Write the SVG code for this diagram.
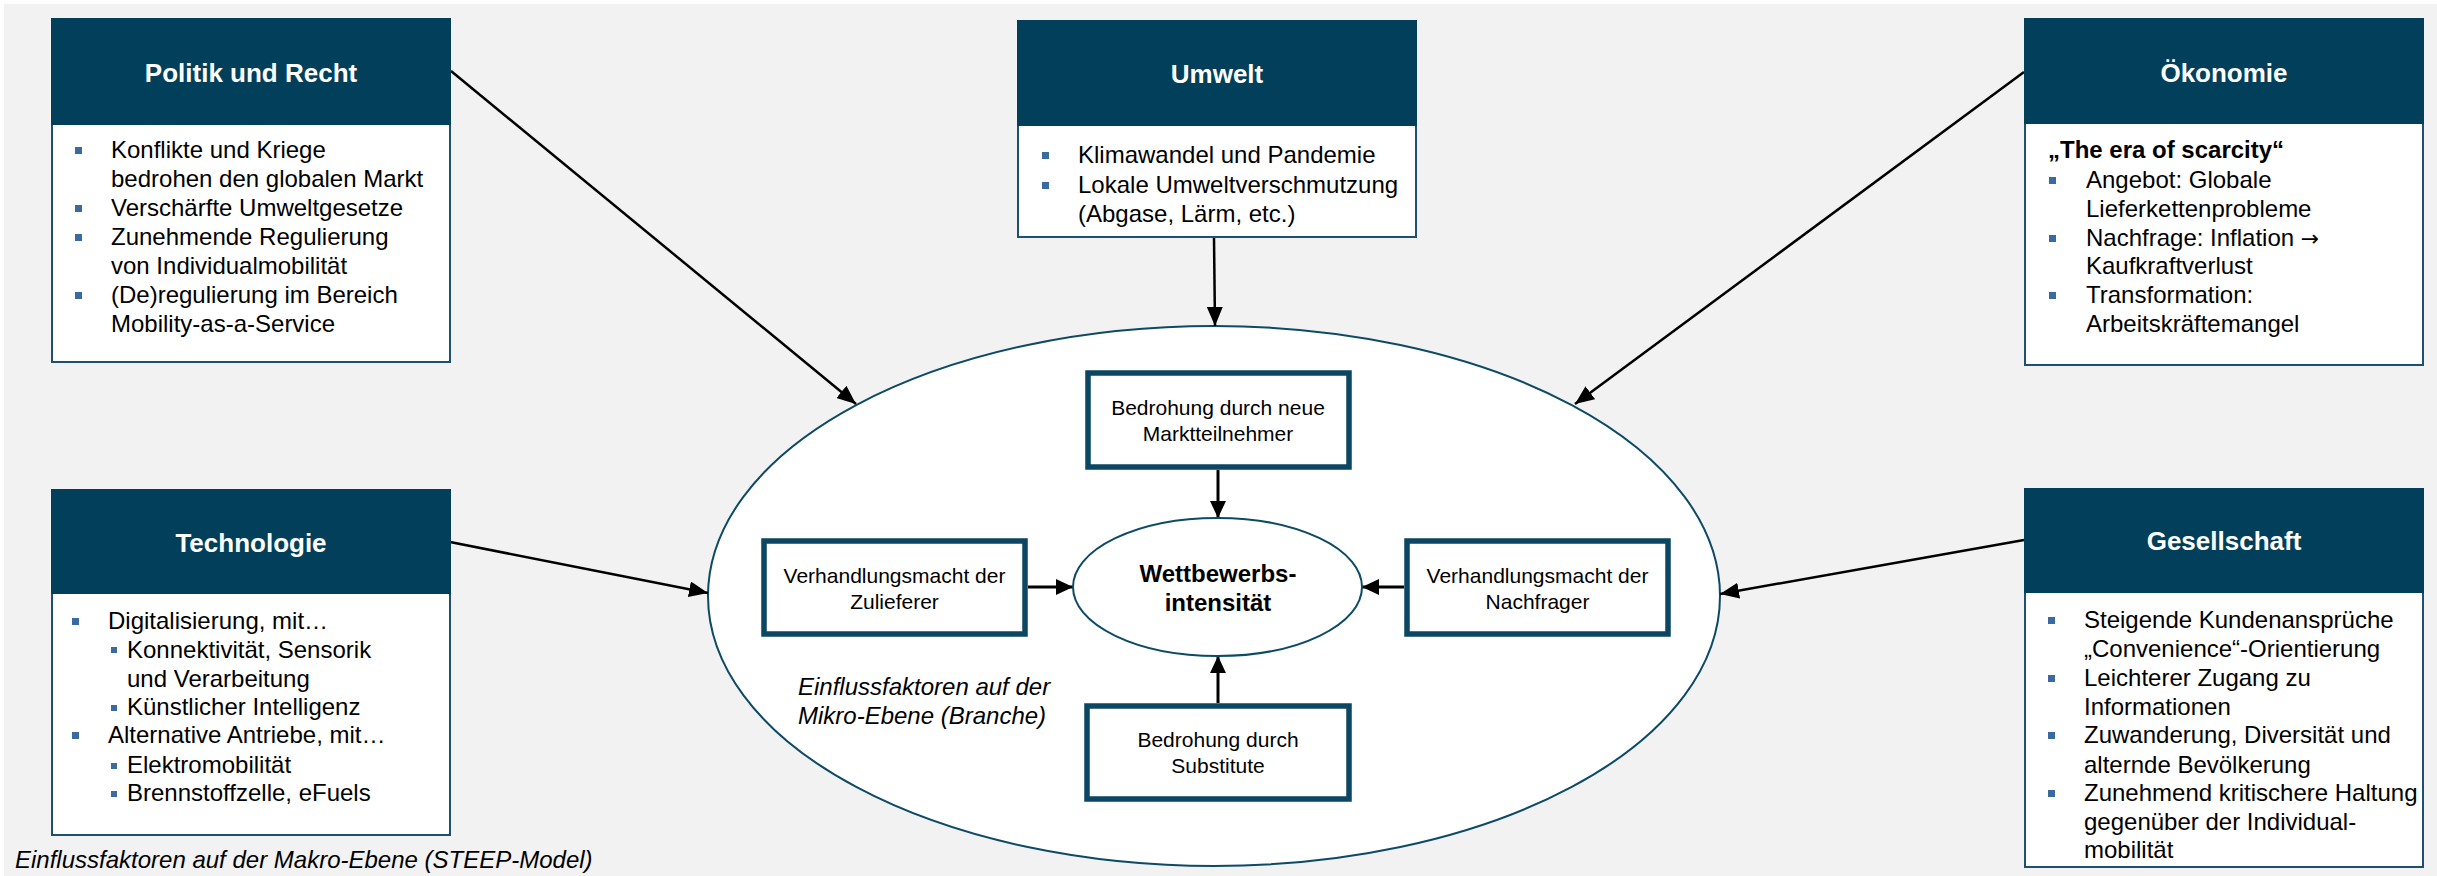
<svg xmlns="http://www.w3.org/2000/svg" width="2437" height="876" viewBox="0 0 2437 876">
<style>
text{font-family:"Liberation Sans",Arial,sans-serif;fill:#000}
.hd{fill:#023f5a}
.bd{fill:#fff;stroke:#1f5070;stroke-width:2}
.ht{font-size:26px;font-weight:bold;fill:#fff;text-anchor:middle}
.tx{font-size:24px}
.bl{fill:#3a6aa0}
.ib{fill:#fff;stroke:#0b4662;stroke-width:5.5}
.it{font-size:21px;text-anchor:middle}
.ca{font-size:24px;font-style:italic}
.el{fill:#fff;stroke:#0d4a66;stroke-width:2}
.cn{stroke:#000;fill:none}
</style>
<defs>
<marker id="ah" markerUnits="userSpaceOnUse" markerWidth="20" markerHeight="16" refX="19" refY="8" orient="auto">
<path d="M0,0 L19,8 L0,16 z" fill="#000"/>
</marker>
<marker id="ah2" markerUnits="userSpaceOnUse" markerWidth="18" markerHeight="16" refX="17" refY="8" orient="auto">
<path d="M0,0 L17,8 L0,16 z" fill="#000"/>
</marker>
</defs>
<rect x="0" y="0" width="2437" height="876" fill="#fff"/>
<rect x="4" y="4" width="2433" height="872" fill="#f2f2f2"/>

<g id="makro-ellipse">
<ellipse class="el" cx="1214" cy="596" rx="506" ry="270"/>
</g>

<g id="connectors">
<line class="cn" stroke-width="2.5" x1="451" y1="71" x2="856" y2="404" marker-end="url(#ah)"/>
<line class="cn" stroke-width="2.5" x1="1214" y1="238" x2="1215" y2="326" marker-end="url(#ah)"/>
<line class="cn" stroke-width="2.5" x1="2024" y1="72" x2="1575" y2="404" marker-end="url(#ah)"/>
<line class="cn" stroke-width="2.5" x1="450" y1="542" x2="708" y2="593" marker-end="url(#ah)"/>
<line class="cn" stroke-width="2.5" x1="2024" y1="540" x2="1720" y2="594" marker-end="url(#ah)"/>
<line class="cn" stroke-width="3" x1="1218" y1="470" x2="1218" y2="518" marker-end="url(#ah2)"/>
<line class="cn" stroke-width="3" x1="1218" y1="703" x2="1218" y2="656" marker-end="url(#ah2)"/>
<line class="cn" stroke-width="3" x1="1028" y1="587" x2="1073" y2="587" marker-end="url(#ah2)"/>
<line class="cn" stroke-width="3" x1="1404" y1="587" x2="1362" y2="587" marker-end="url(#ah2)"/>
</g>

<g id="politik">
<rect class="bd" x="52" y="19" width="398" height="343"/>
<rect class="hd" x="51" y="18" width="400" height="107"/>
<text class="ht" x="251" y="82">Politik und Recht</text>
<rect class="bl" x="75" y="147" width="7" height="7"/>
<rect class="bl" x="75" y="205" width="7" height="7"/>
<rect class="bl" x="75" y="234" width="7" height="7"/>
<rect class="bl" x="75" y="292" width="7" height="7"/>
<text class="tx" x="111" y="158">Konflikte und Kriege</text>
<text class="tx" x="111" y="187">bedrohen den globalen Markt</text>
<text class="tx" x="111" y="216">Verschärfte Umweltgesetze</text>
<text class="tx" x="111" y="245">Zunehmende Regulierung</text>
<text class="tx" x="111" y="274">von Individualmobilität</text>
<text class="tx" x="111" y="303">(De)regulierung im Bereich</text>
<text class="tx" x="111" y="332">Mobility-as-a-Service</text>
</g>

<g id="umwelt">
<rect class="bd" x="1018" y="21" width="398" height="216"/>
<rect class="hd" x="1017" y="20" width="400" height="106"/>
<text class="ht" x="1217" y="83">Umwelt</text>
<rect class="bl" x="1042" y="152" width="7" height="7"/>
<rect class="bl" x="1042" y="182" width="7" height="7"/>
<text class="tx" x="1078" y="163">Klimawandel und Pandemie</text>
<text class="tx" x="1078" y="193">Lokale Umweltverschmutzung</text>
<text class="tx" x="1078" y="222">(Abgase, Lärm, etc.)</text>
</g>

<g id="oekonomie">
<rect class="bd" x="2025" y="19" width="398" height="346"/>
<rect class="hd" x="2024" y="18" width="400" height="106"/>
<text class="ht" x="2224" y="82">Ökonomie</text>
<text class="tx" x="2048" y="158" font-weight="bold">„The era of scarcity“</text>
<rect class="bl" x="2049" y="177" width="7" height="7"/>
<rect class="bl" x="2049" y="235" width="7" height="7"/>
<rect class="bl" x="2049" y="292" width="7" height="7"/>
<text class="tx" x="2086" y="188">Angebot: Globale</text>
<text class="tx" x="2086" y="217">Lieferkettenprobleme</text>
<text class="tx" x="2086" y="246">Nachfrage: Inflation <tspan font-family="'DejaVu Sans',sans-serif" font-size="22">→</tspan></text>
<text class="tx" x="2086" y="274">Kaufkraftverlust</text>
<text class="tx" x="2086" y="303">Transformation:</text>
<text class="tx" x="2086" y="332">Arbeitskräftemangel</text>
</g>

<g id="technologie">
<rect class="bd" x="52" y="490" width="398" height="345"/>
<rect class="hd" x="51" y="489" width="400" height="105"/>
<text class="ht" x="251" y="552">Technologie</text>
<rect class="bl" x="72" y="618" width="7" height="7"/>
<rect class="bl" x="72" y="732" width="7" height="7"/>
<rect class="bl" x="111" y="647" width="6" height="6"/>
<rect class="bl" x="111" y="705" width="6" height="6"/>
<rect class="bl" x="111" y="763" width="6" height="6"/>
<rect class="bl" x="111" y="791" width="6" height="6"/>
<text class="tx" x="108" y="629">Digitalisierung, mit…</text>
<text class="tx" x="127" y="658">Konnektivität, Sensorik</text>
<text class="tx" x="127" y="687">und Verarbeitung</text>
<text class="tx" x="127" y="715">Künstlicher Intelligenz</text>
<text class="tx" x="108" y="743">Alternative Antriebe, mit…</text>
<text class="tx" x="127" y="773">Elektromobilität</text>
<text class="tx" x="127" y="801">Brennstoffzelle, eFuels</text>
</g>

<g id="gesellschaft">
<rect class="bd" x="2025" y="489" width="398" height="378"/>
<rect class="hd" x="2024" y="488" width="400" height="105"/>
<text class="ht" x="2224" y="550">Gesellschaft</text>
<rect class="bl" x="2048" y="617" width="7" height="7"/>
<rect class="bl" x="2048" y="675" width="7" height="7"/>
<rect class="bl" x="2048" y="732" width="7" height="7"/>
<rect class="bl" x="2048" y="790" width="7" height="7"/>
<text class="tx" x="2084" y="628">Steigende Kundenansprüche</text>
<text class="tx" x="2084" y="657">„Convenience“-Orientierung</text>
<text class="tx" x="2084" y="686">Leichterer Zugang zu</text>
<text class="tx" x="2084" y="715">Informationen</text>
<text class="tx" x="2084" y="743">Zuwanderung, Diversität und</text>
<text class="tx" x="2084" y="773">alternde Bevölkerung</text>
<text class="tx" x="2084" y="801">Zunehmend kritischere Haltung</text>
<text class="tx" x="2084" y="830">gegenüber der Individual-</text>
<text class="tx" x="2084" y="858">mobilität</text>
</g>

<g id="neue-marktteilnehmer">
<rect class="ib" x="1088" y="373" width="261" height="94"/>
<text class="it" x="1218" y="415">Bedrohung durch neue</text>
<text class="it" x="1218" y="441">Marktteilnehmer</text>
</g>

<g id="zulieferer">
<rect class="ib" x="764" y="541" width="261" height="93"/>
<text class="it" x="894.5" y="583">Verhandlungsmacht der</text>
<text class="it" x="894.5" y="609">Zulieferer</text>
</g>

<g id="nachfrager">
<rect class="ib" x="1407" y="541" width="261" height="93"/>
<text class="it" x="1537.5" y="583">Verhandlungsmacht der</text>
<text class="it" x="1537.5" y="609">Nachfrager</text>
</g>

<g id="substitute">
<rect class="ib" x="1087" y="706" width="262" height="93"/>
<text class="it" x="1218" y="747">Bedrohung durch</text>
<text class="it" x="1218" y="773">Substitute</text>
</g>

<g id="wettbewerbsintensitaet">
<ellipse class="el" cx="1217.5" cy="587" rx="144.5" ry="69"/>
<text x="1218" y="582" font-size="24" font-weight="bold" text-anchor="middle">Wettbewerbs-</text>
<text x="1218" y="611" font-size="24" font-weight="bold" text-anchor="middle">intensität</text>
</g>

<g id="captions">
<text class="ca" x="798" y="695">Einflussfaktoren auf der</text>
<text class="ca" x="798" y="724">Mikro-Ebene (Branche)</text>
<text class="ca" x="15" y="868">Einflussfaktoren auf der Makro-Ebene (STEEP-Model)</text>
</g>
</svg>
